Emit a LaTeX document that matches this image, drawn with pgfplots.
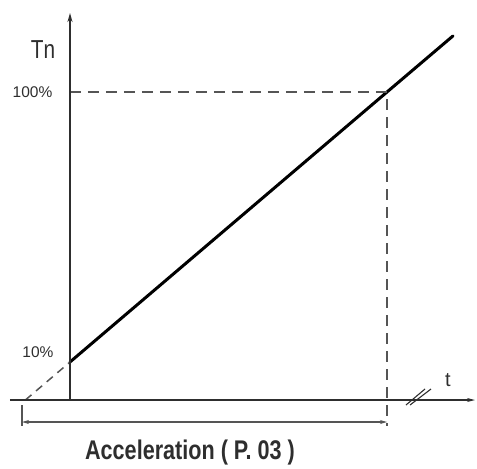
\documentclass[border=0pt]{standalone}
\usepackage{pgfplots}
\pgfplotsset{compat=1.18}
\usepackage{fontspec}
\setmainfont{Liberation Sans}
\newfontfamily\narrow[FakeStretch=0.8]{Liberation Sans}
\usetikzlibrary{arrows.meta}
\definecolor{axisgray}{HTML}{2E2E2E}
\definecolor{dashgray}{HTML}{555555}
\begin{document}
\begin{tikzpicture}
\begin{axis}[
    scale only axis,
    width=477pt, height=468pt,
    xmin=-0.2208, xmax=1.2839,
    ymin=-25.33, ymax=130.67,
    hide axis,
    clip=false,
]
% bounding box = whole picture
\path (rel axis cs:0,0) rectangle (rel axis cs:1,1);

% torque ramp
\addplot[black, line width=3pt, line cap=round] coordinates {(0,10) (1,100) (1.2082,118.7)};
% extrapolated part
\addplot[dashgray, line width=1.5pt, dash pattern=on 8pt off 6pt] coordinates {(-0.1407,-2.667) (0,10)};
% 100% guide lines
\addplot[dashgray, line width=1.5pt, dash pattern=on 11pt off 7pt] coordinates {(0,100) (1,100) (1,-11.33)};

% axes
\draw[axisgray, line width=2pt, -{Stealth[length=9pt,width=5pt]}] (axis cs:0,-2.667) -- (axis cs:0,126.33);
\draw[axisgray, line width=2pt] (axis cs:-0.1893,-2.667) -- (axis cs:1.14,-2.667);
\draw[axisgray, line width=1.2pt, -{Stealth[length=8pt,width=4pt]}] (axis cs:1.14,-2.667) -- (axis cs:1.2776,-2.667);
% axis break
\draw[axisgray, line width=1.1pt] (axis cs:1.0599,-4.33) -- (axis cs:1.1199,1.0);
\draw[axisgray, line width=1.1pt] (axis cs:1.0726,-4.33) -- (axis cs:1.1388,1.0);

% dimension line
\draw[dashgray, line width=1.3pt] (axis cs:-0.1514,-4.33) -- (axis cs:-0.1514,-11.33);
\draw[dashgray, line width=1.3pt, {Stealth[length=7pt,width=4pt]}-{Stealth[length=7pt,width=4pt]}]
    (axis cs:-0.1514,-10) -- (axis cs:1,-10);

% labels
\node[font=\narrow\fontsize{26}{26}\selectfont, text=axisgray] at (axis cs:-0.085,114.3) {Tn};
\node[font=\fontsize{15.5}{15.5}\selectfont, text=axisgray, anchor=east] at (axis cs:-0.0445,100) {100\%};
\node[font=\fontsize{15.5}{15.5}\selectfont, text=axisgray, anchor=east] at (axis cs:-0.0410,13.3) {10\%};
\node[font=\fontsize{20}{20}\selectfont, text=axisgray] at (axis cs:1.1924,4.0) {t};
\node[font=\narrow\bfseries\fontsize{27}{27}\selectfont, text=axisgray] at (axis cs:0.3785,-20.3) {Acceleration ( P. 03 )};
\end{axis}
\end{tikzpicture}
\end{document}
